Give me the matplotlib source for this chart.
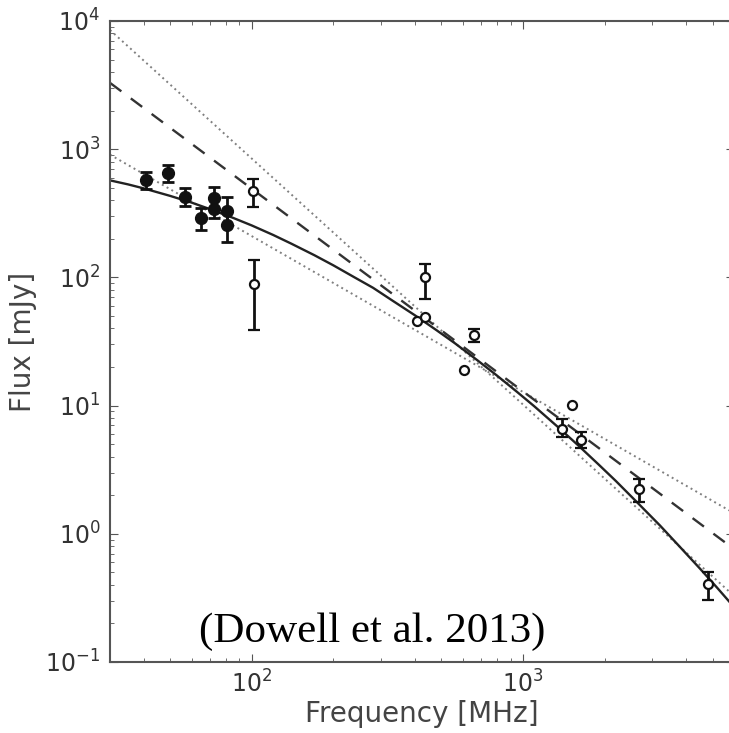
import numpy as np
import matplotlib.pyplot as plt

plt.rcParams['axes.unicode_minus'] = False

# measured fluxes (filled: low-frequency, open: literature)
f_fill = [40.8, 48.9, 56.6, 64.7, 72.6, 72.6, 80.7, 80.7]
s_fill = [571, 653, 425, 291, 417, 344, 328, 254]
lo_fill = [493, 552, 363, 236, 344, 288, 254, 188]
hi_fill = [662, 758, 499, 349, 508, 417, 421, 328]

f_open = [101, 102, 435, 661, 1390, 1633, 2680, 4830]
s_open = [470, 89, 100, 35.4, 6.6, 5.39, 2.24, 0.408]
lo_open = [352, 39, 68, 31.4, 5.66, 4.67, 1.77, 0.303]
hi_open = [586, 136, 128, 39.9, 7.86, 6.18, 2.68, 0.503]

# open points without error bars
f_nerr = [407, 435, 607, 1514]
s_nerr = [45.7, 49.4, 18.9, 10.1]

# curved fit
f_curve = [30, 35, 40, 50, 60, 70, 85, 100, 120, 140, 170, 200, 240, 280, 330, 400,
           480, 560, 680, 800, 950, 1100, 1350, 1600, 1900, 2200, 2700, 3200, 3800,
           4500, 5200, 6000]
s_curve = [571, 531, 494, 432, 383, 341, 292, 254, 214, 183, 149, 124, 99.6, 82.9, 65.9, 50.5,
           38.7, 30.7, 22.5, 17.2, 12.8, 9.88, 6.76, 4.88, 3.47, 2.58, 1.67, 1.16, 0.785,
           0.533, 0.379, 0.268]

# power-law fits
f_line = [30, 5760]
s_dash = [3290, 0.81]
s_steep = [8500, 0.354]
s_flat = [906, 1.52]

fig = plt.figure(figsize=(7.29, 7.33), dpi=100)
ax = fig.add_axes([0.1509, 0.0969, 0.856, 0.8745])

ax.plot(f_line, s_steep, color='#808080', ls=(0, (1, 1.8)), lw=1.4)
ax.plot(f_line, s_flat, color='#808080', ls=(0, (1, 1.8)), lw=1.4)
ax.plot(f_line, s_dash, color='#333333', ls=(0, (6, 5)), lw=1.7)
ax.plot(f_curve, s_curve, color='#222222', lw=1.7)

yerr_fill = [np.array(s_fill) - np.array(lo_fill), np.array(hi_fill) - np.array(s_fill)]
ax.errorbar(f_fill, s_fill, yerr=yerr_fill, fmt='o', color='#111111', ms=8.5,
            elinewidth=2, capsize=4, capthick=2, zorder=4)
yerr_open = [np.array(s_open) - np.array(lo_open), np.array(hi_open) - np.array(s_open)]
ax.errorbar(f_open, s_open, yerr=yerr_open, fmt='o', color='#111111', mfc='white',
            mec='#111111', mew=1.6, ms=6.5, elinewidth=2, capsize=4, capthick=2, zorder=4)
ax.plot(f_nerr, s_nerr, 'o', mfc='white', mec='#111111', mew=1.6, ms=6.5, zorder=4)

ax.set_xscale('log')
ax.set_yscale('log')
ax.set_xlim(30, 6000)
ax.set_ylim(0.1, 1e4)

for sp in ax.spines.values():
    sp.set_color('#555555')
    sp.set_linewidth(1.5)
ax.tick_params(which='both', direction='in', top=True, right=True, colors='#555555')
ax.tick_params(which='major', length=6, labelsize=17, labelcolor='#333333', pad=7)
ax.tick_params(axis='x', which='major', pad=6)
ax.tick_params(which='minor', length=3)

ax.set_xlabel('Frequency [MHz]', fontsize=20, color='#444444', labelpad=2)
ax.set_ylabel('Flux [mJy]', fontsize=20, color='#444444', labelpad=6)

ax.text(0.42, 0.047, '(Dowell et al. 2013)', transform=ax.transAxes, ha='center',
        va='center', fontsize=31, family='Liberation Serif', color='black')

fig.savefig('out.png', dpi=100)
